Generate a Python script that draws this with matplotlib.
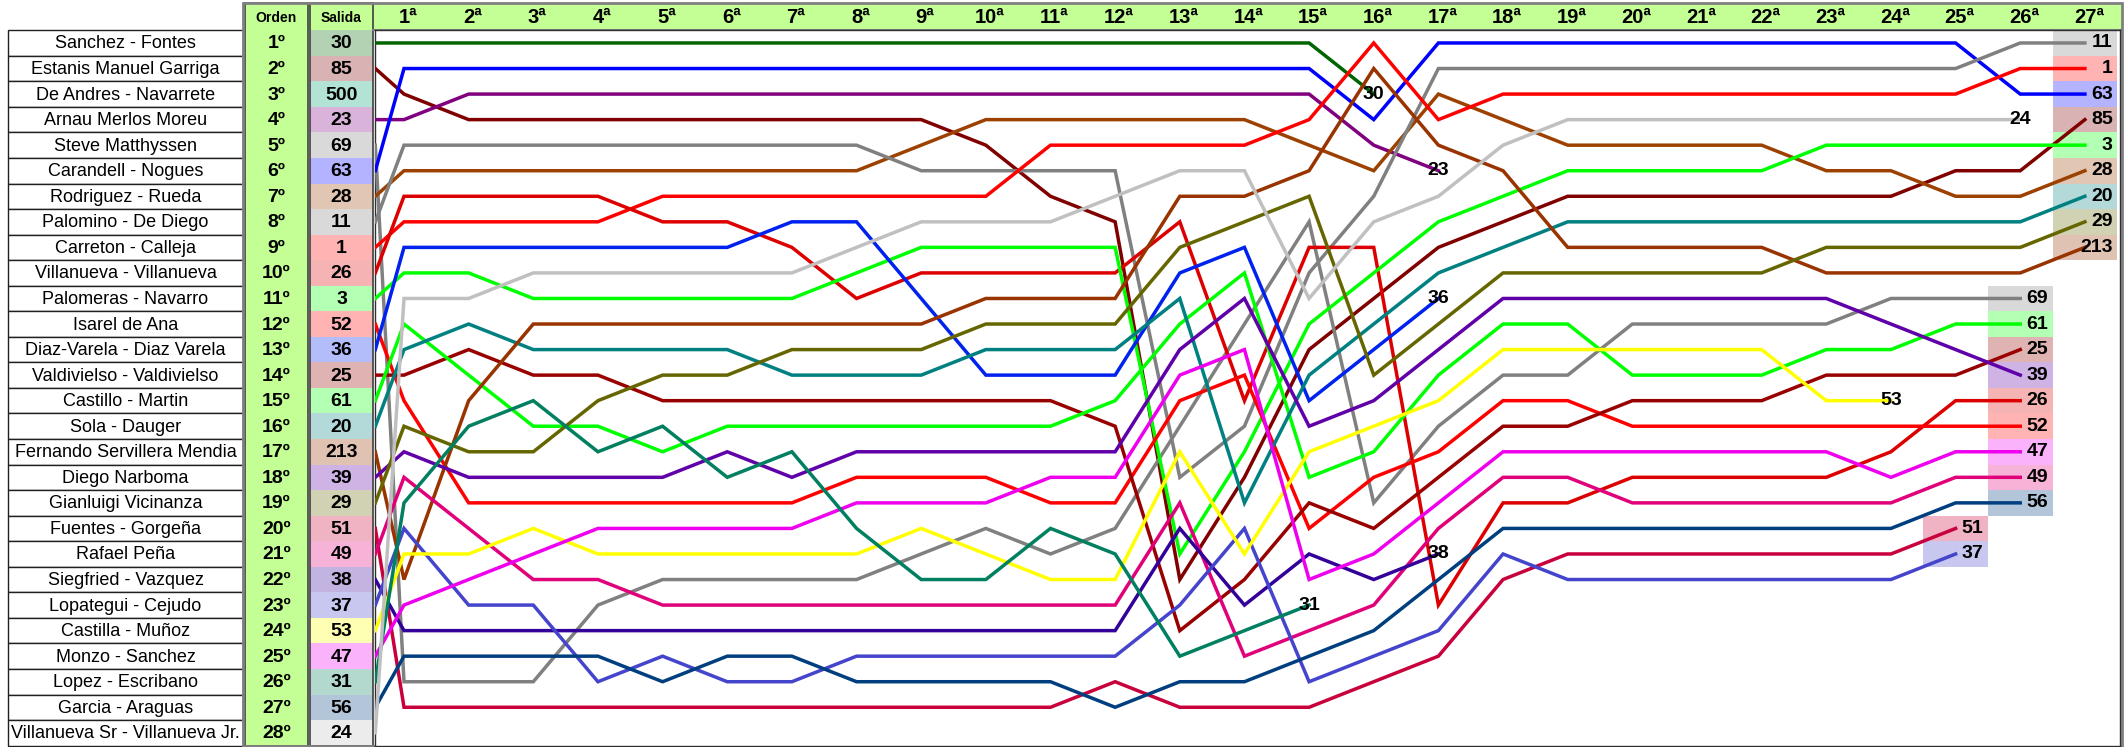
import matplotlib
matplotlib.use('Agg')
import matplotlib.pyplot as plt
from matplotlib.patches import Rectangle
from matplotlib import transforms
from matplotlib.colors import to_rgb

plt.rcParams['font.family'] = ['Liberation Sans', 'DejaVu Sans']

# ---------------- data ----------------
names = ['Sanchez - Fontes', 'Estanis Manuel Garriga', 'De Andres - Navarrete', 'Arnau Merlos Moreu',
         'Steve Matthyssen', 'Carandell - Nogues', 'Rodriguez - Rueda', 'Palomino - De Diego',
         'Carreton - Calleja', 'Villanueva - Villanueva', 'Palomeras - Navarro', 'Isarel de Ana',
         'Diaz-Varela - Diaz Varela', 'Valdivielso - Valdivielso', 'Castillo - Martin', 'Sola - Dauger',
         'Fernando Servillera Mendia', 'Diego Narboma', 'Gianluigi Vicinanza', 'Fuentes - Gorgeña',
         'Rafael Peña', 'Siegfried - Vazquez', 'Lopategui - Cejudo', 'Castilla - Muñoz',
         'Monzo - Sanchez', 'Lopez - Escribano', 'Garcia - Araguas', 'Villanueva Sr - Villanueva Jr.']
orden = [f'{i}º' for i in range(1, 29)]
salida = ['30', '85', '500', '23', '69', '63', '28', '11', '1', '26', '3', '52', '36', '25',
          '61', '20', '213', '39', '29', '51', '49', '38', '37', '53', '47', '31', '56', '24']
salida_colors = ['#006400', '#800000', '#00A070', '#800080', '#808080', '#0000FF', '#9C4100',
                 '#808080', '#FF0000', '#DD0000', '#00FF00', '#FF0000', '#0022EE', '#990000',
                 '#00FF00', '#008080', '#993300', '#6000A8', '#666600', '#C8003C', '#E0007A',
                 '#330099', '#4444CC', '#FFFF00', '#EE00EE', '#008060', '#003F7F', '#C0C0C0']
stages = [f'{i}ª' for i in range(1, 28)]

# position after each stage (index 0 = starting order)
p30 = [1, 1, 1, 1, 1, 1, 1, 1, 1, 1, 1, 1, 1, 1, 1, 1, 3]
p85 = [2, 3, 4, 4, 4, 4, 4, 4, 4, 4, 5, 7, 8, 22, 18, 13, 11, 9, 8, 7, 7, 7, 7, 7, 7, 6, 6, 4]
p23 = [4, 4, 3, 3, 3, 3, 3, 3, 3, 3, 3, 3, 3, 3, 3, 3, 5, 6]
p69 = [5, 26, 26, 26, 23, 22, 22, 22, 22, 21, 20, 21, 20, 16, 12, 8, 19, 16, 14, 14, 12, 12, 12, 12, 11, 11, 11]
p63 = [6, 2, 2, 2, 2, 2, 2, 2, 2, 2, 2, 2, 2, 2, 2, 2, 4, 1, 1, 1, 1, 1, 1, 1, 1, 1, 3, 3]
p28 = [7, 6, 6, 6, 6, 6, 6, 6, 6, 5, 4, 4, 4, 4, 4, 5, 6, 3, 4, 5, 5, 5, 5, 6, 6, 7, 7, 6]
p11 = [8, 5, 5, 5, 5, 5, 5, 5, 5, 6, 6, 6, 6, 18, 16, 10, 7, 2, 2, 2, 2, 2, 2, 2, 2, 2, 1, 1]
p1 = [9, 8, 8, 8, 8, 7, 7, 7, 7, 7, 7, 5, 5, 5, 5, 4, 1, 4, 3, 3, 3, 3, 3, 3, 3, 3, 2, 2]
p26 = [10, 7, 7, 7, 7, 8, 8, 9, 11, 10, 10, 10, 10, 8, 15, 9, 9, 23, 19, 19, 18, 18, 18, 18, 17, 15, 15]
p3 = [11, 10, 10, 11, 11, 11, 11, 11, 10, 9, 9, 9, 9, 21, 17, 12, 10, 8, 7, 6, 6, 6, 6, 5, 5, 5, 5, 5]
p52 = [12, 15, 19, 19, 19, 19, 19, 19, 18, 18, 18, 19, 19, 15, 14, 20, 18, 17, 15, 15, 16, 16, 16, 16, 16, 16, 16]
p36 = [13, 9, 9, 9, 9, 9, 9, 8, 8, 11, 14, 14, 14, 10, 9, 15, 13, 11]
p25 = [14, 14, 13, 14, 14, 15, 15, 15, 15, 15, 15, 15, 16, 24, 22, 19, 20, 18, 16, 16, 15, 15, 15, 14, 14, 14, 13]
p61 = [15, 12, 14, 16, 16, 17, 16, 16, 16, 16, 16, 16, 15, 12, 10, 18, 17, 14, 12, 12, 14, 14, 14, 13, 13, 12, 12]
p20 = [16, 13, 12, 13, 13, 13, 13, 14, 14, 14, 13, 13, 13, 11, 19, 14, 12, 10, 9, 8, 8, 8, 8, 8, 8, 8, 8, 7]
p213 = [17, 22, 15, 12, 12, 12, 12, 12, 12, 12, 11, 11, 11, 7, 7, 6, 2, 5, 6, 9, 9, 9, 9, 10, 10, 10, 10, 9]
p39 = [18, 17, 18, 18, 18, 18, 17, 18, 17, 17, 17, 17, 17, 13, 11, 16, 15, 13, 11, 11, 11, 11, 11, 11, 12, 13, 14]
p29 = [19, 16, 17, 17, 15, 14, 14, 13, 13, 13, 12, 12, 12, 9, 8, 7, 14, 12, 10, 10, 10, 10, 10, 9, 9, 9, 9, 8]
p51 = [20, 27, 27, 27, 27, 27, 27, 27, 27, 27, 27, 27, 26, 27, 27, 27, 26, 25, 22, 21, 21, 21, 21, 21, 21, 20]
p49 = [21, 18, 20, 22, 22, 23, 23, 23, 23, 23, 23, 23, 23, 19, 25, 24, 23, 20, 18, 18, 19, 19, 19, 19, 19, 18, 18]
p38 = [22, 24, 24, 24, 24, 24, 24, 24, 24, 24, 24, 24, 24, 20, 23, 21, 22, 21]
p37 = [23, 20, 23, 23, 26, 25, 26, 26, 25, 25, 25, 25, 25, 23, 20, 26, 25, 24, 21, 22, 22, 22, 22, 22, 22, 21]
p53 = [24, 21, 21, 20, 21, 21, 21, 21, 21, 20, 21, 22, 22, 17, 21, 17, 16, 15, 13, 13, 13, 13, 13, 15, 15]
p47 = [25, 23, 22, 21, 20, 20, 20, 20, 19, 19, 19, 18, 18, 14, 13, 22, 21, 19, 17, 17, 17, 17, 17, 17, 18, 17, 17]
p31 = [26, 19, 16, 15, 17, 16, 18, 17, 20, 22, 22, 20, 21, 25, 24, 23]
p56 = [27, 25, 25, 25, 25, 26, 25, 25, 26, 26, 26, 26, 27, 26, 26, 25, 24, 22, 20, 20, 20, 20, 20, 20, 20, 19, 19]
p24 = [28, 11, 11, 10, 10, 10, 10, 10, 9, 8, 8, 8, 7, 6, 6, 11, 8, 7, 5, 4, 4, 4, 4, 4, 4, 4, 4]

positions = {'30': p30, '85': p85, '23': p23, '69': p69, '63': p63, '28': p28, '11': p11,
             '1': p1, '26': p26, '3': p3, '52': p52, '36': p36, '25': p25, '61': p61,
             '20': p20, '213': p213, '39': p39, '29': p29, '51': p51, '49': p49, '38': p38,
             '37': p37, '53': p53, '47': p47, '31': p31, '56': p56, '24': p24}
plain_labels = ['30', '23', '36', '38', '31', '53', '24']   # end labels without a coloured box

# ---------------- layout (pixels) ----------------
W, H = 2127, 747
ROW_TOP, ROW_H = 30.2, 25.55
HDR_TOP = 3
NAME_X0, NAME_X1 = 8, 243
ORD_X0, ORD_X1 = 245, 308
SAL_X0, SAL_X1 = 310, 373
CH_X0, CH_X1 = 375, 2120
CH_Y1 = ROW_TOP + 28 * ROW_H
STAGE1_PX, STAGE_DX = 404, 64.65
XL0 = 1 - (STAGE1_PX - CH_X0) / STAGE_DX
XL1 = 1 + (CH_X1 - STAGE1_PX) / STAGE_DX
HDR_GREEN = '#C4FF96'


def tint(c, a=0.3):
    r, g, b = to_rgb(c)
    return (1 - a + a * r, 1 - a + a * g, 1 - a + a * b)


fig = plt.figure(figsize=(W / 100, H / 100), dpi=100)
bg = fig.add_axes([0, 0, 1, 1])
bg.set_xlim(0, W)
bg.set_ylim(H, 0)
bg.axis('off')

# header band + orden column
bg.add_patch(Rectangle((NAME_X1, HDR_TOP), W - 5 - NAME_X1, ROW_TOP - HDR_TOP, facecolor=HDR_GREEN,
                       edgecolor='none', zorder=1))
bg.add_patch(Rectangle((ORD_X0, HDR_TOP), ORD_X1 - ORD_X0, CH_Y1 - HDR_TOP, facecolor=HDR_GREEN,
                       edgecolor='#404040', lw=1.2, zorder=2))
bg.add_patch(Rectangle((SAL_X0, HDR_TOP), SAL_X1 - SAL_X0, CH_Y1 - HDR_TOP, facecolor='none',
                       edgecolor='#404040', lw=1.2, zorder=4))
bg.text((ORD_X0 + ORD_X1) / 2, (HDR_TOP + ROW_TOP) / 2 + 1, 'Orden', ha='center', va='center',
        fontsize=10, fontweight='bold', zorder=5)
bg.text((SAL_X0 + SAL_X1) / 2, (HDR_TOP + ROW_TOP) / 2 + 1, 'Salida', ha='center', va='center',
        fontsize=10, fontweight='bold', zorder=5)

for i in range(28):
    y0 = ROW_TOP + i * ROW_H
    yc = y0 + ROW_H / 2
    bg.add_patch(Rectangle((NAME_X0, y0), NAME_X1 - NAME_X0, ROW_H, facecolor='white',
                           edgecolor='#202020', lw=1.0, zorder=2))
    bg.text((NAME_X0 + NAME_X1) / 2, yc + 1, names[i], ha='center', va='center', fontsize=13, zorder=3)
    bg.text((ORD_X0 + ORD_X1) / 2, yc + 1, orden[i], ha='center', va='center', fontsize=14,
            fontweight='bold', zorder=3)
    bg.add_patch(Rectangle((SAL_X0, y0), SAL_X1 - SAL_X0, ROW_H, facecolor=tint(salida_colors[i]),
                           edgecolor='none', zorder=2))
    bg.text((SAL_X0 + SAL_X1) / 2, yc + 1, salida[i], ha='center', va='center', fontsize=14,
            fontweight='bold', zorder=3)

# outer frame
bg.add_patch(Rectangle((NAME_X1, HDR_TOP), W - 5 - NAME_X1, CH_Y1 - HDR_TOP, facecolor='none',
                       edgecolor='#808080', lw=2, zorder=6))
bg.plot([SAL_X1, W - 5], [ROW_TOP, ROW_TOP], color='#808080', lw=1.5, zorder=6)

# ---------------- chart ----------------
ax = fig.add_axes([CH_X0 / W, 1 - CH_Y1 / H, (CH_X1 - CH_X0) / W, (CH_Y1 - ROW_TOP) / H])
ax.set_xlim(XL0, XL1)
ax.set_ylim(28.5, 0.5)
ax.set_xticks([])
ax.set_yticks([])
for s in ax.spines.values():
    s.set_color('#303030')
    s.set_linewidth(1.0)

hdr_tr = transforms.blended_transform_factory(ax.transData, bg.transData)
for k, lab in enumerate(stages, start=1):
    bg.text(k + 0.06, (HDR_TOP + ROW_TOP) / 2 + 1, lab, transform=hdr_tr, ha='center', va='center',
            fontsize=14.5, fontweight='bold', zorder=7)

color_of = dict(zip(salida, salida_colors))
for lab, pos in positions.items():
    xs = [XL0 + 0.005] + list(range(1, len(pos)))
    ax.plot(xs, pos, color=color_of[lab], lw=2.5, solid_joinstyle='miter', zorder=3)
    xe, ye = len(pos) - 1, pos[-1]
    if lab in plain_labels:
        ax.text(xe, ye, lab, ha='center', va='center', fontsize=14, fontweight='bold', zorder=6)
    else:
        ax.add_patch(Rectangle((xe - 0.5, ye - 0.5), 1.0, 1.0, facecolor=tint(color_of[lab], 0.3),
                               edgecolor='none', zorder=1))
        ax.text(xe + 0.43, ye, lab, ha='right', va='center', fontsize=14, fontweight='bold', zorder=6)

fig.savefig('out.png', dpi=100)
